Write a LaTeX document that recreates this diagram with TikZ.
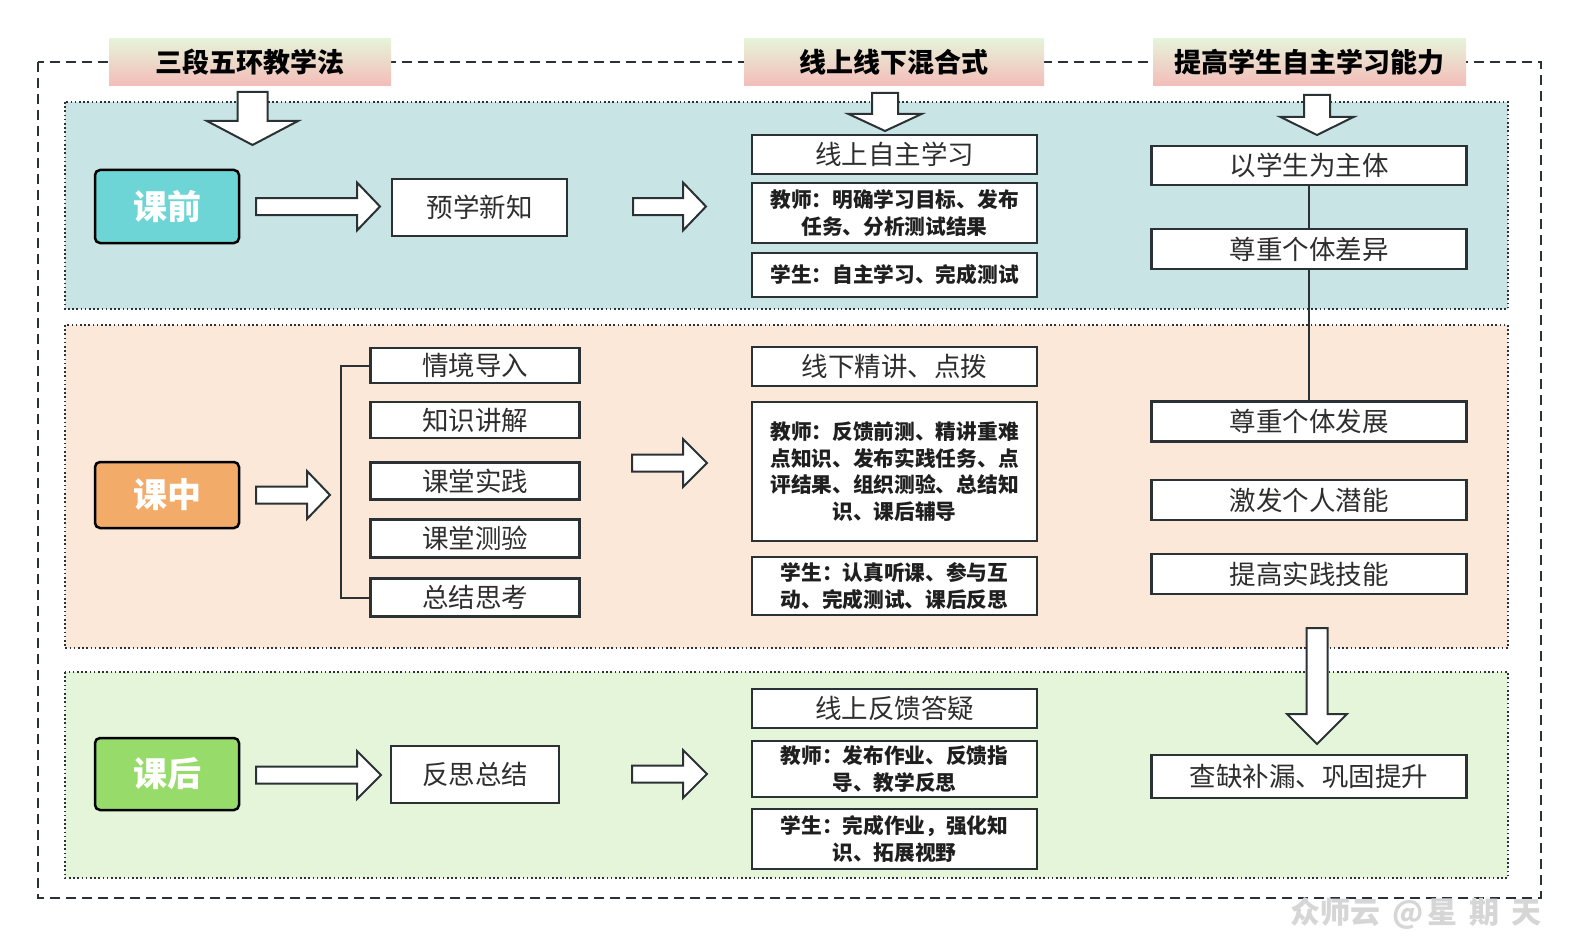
\documentclass[tikz,border=0pt]{standalone}
\usepackage{fontspec}
\newfontfamily\cjk{Noto Sans CJK SC}
\usetikzlibrary{calc}
\definecolor{edge}{HTML}{2B3236}
\definecolor{txt}{HTML}{2E2E2E}
\definecolor{bandA}{HTML}{C9E4E4}
\definecolor{bandB}{HTML}{FBE8D9}
\definecolor{bandC}{HTML}{E5F5D9}
\definecolor{ttop}{HTML}{E6F3D9}
\definecolor{tbot}{HTML}{F3BCB8}
\definecolor{cyanbox}{HTML}{6DD5D5}
\definecolor{orangebox}{HTML}{F2AB68}
\definecolor{greenbox}{HTML}{97DB6B}
\definecolor{wm}{HTML}{D6D6D6}
\tikzset{
  box/.style={draw=edge, line width=2.2pt, fill=white, inner sep=0pt, text=txt,
    font=\cjk\fontsize{26.5}{30}\selectfont},
  tbox/.style={box, align=center, text=black!88,
    font=\cjk\bfseries\fontsize{20.7}{26.5}\selectfont},
  titlebox/.style={inner sep=0pt, top color=ttop, bottom color=tbot,
    minimum height=47pt, font=\cjk\bfseries\fontsize{27}{30}\selectfont},
  phase/.style={draw=black, line width=2.5pt, rounded corners=5pt, inner sep=0pt,
    minimum width=144pt, text=white, font=\cjk\bfseries\fontsize{34}{36}\selectfont},
  band/.style={draw=edge, line width=1.6pt, dash pattern=on 1.6pt off 2.6pt},
  blk/.style={draw=edge, line width=2pt, fill=white, line join=miter},
  link/.style={draw=edge, line width=2pt},
}
\newcommand\RBlk[4]{%
  \draw[blk] (#1,#4-8.5) -- (#2,#4-8.5) -- (#2,#4-24) -- (#3,#4) -- (#2,#4+24) -- (#2,#4+8.5) -- (#1,#4+8.5) -- cycle;}
\newcommand\DBlk[6]{%
  \draw[blk] (#1-#2,#4) -- (#1+#2,#4) -- (#1+#2,#5) -- (#1+#3,#5) -- (#1,#6) -- (#1-#3,#5) -- (#1-#2,#5) -- cycle;}
\begin{document}
\begin{tikzpicture}[x=1pt,y=-1pt]
\useasboundingbox[fill=white] (0,0) rectangle (1578,936);
% outer dashed frame
\draw[edge, line width=1.8pt, dash pattern=on 10pt off 6pt] (38,62) rectangle (1541,898);
% bands
\fill[bandA] (65,102) rectangle (1508,309);
\draw[band] (65,102) rectangle (1508,309);
\fill[bandB] (65,325) rectangle (1508,648);
\draw[band] (65,325) rectangle (1508,648);
\fill[bandC] (65,672) rectangle (1508,878);
\draw[band] (65,672) rectangle (1508,878);
% titles
\node[titlebox, minimum width=282pt] (t1) at (250,62.5) {三段五环教学法};
\node[titlebox, minimum width=300pt] (t2) at (894,62.5) {线上线下混合式};
\node[titlebox, minimum width=313pt] (t3) at (1309.5,62.5) {提高学生自主学习能力};
% down arrows under titles
\DBlk{252.5}{15}{45.5}{92}{121}{145}
\DBlk{885}{13}{36.5}{93}{114}{131}
\DBlk{1317}{13}{36.5}{95}{117}{135}
% phase boxes
\node[phase, fill=cyanbox, minimum height=73pt] (kq) at (167,206.5) {课前};
\node[phase, fill=orangebox, minimum height=66pt] (kz) at (167,495) {课中};
\node[phase, fill=greenbox, minimum height=72pt] (kh) at (167,774) {课后};
% first stage boxes
\node[box, minimum width=175pt, minimum height=57pt] (p1) at (479.5,207.5) {预学新知};
\node[box, minimum width=168pt, minimum height=57pt] (p3) at (475,774.5) {反思总结};
\node[box, minimum width=209pt, minimum height=35pt] (m1) at (475,365.5) {情境导入};
\node[box, minimum width=209pt, minimum height=36pt] (m2) at (475,420) {知识讲解};
\node[box, minimum width=209pt, minimum height=37pt] (m3) at (475,481) {课堂实践};
\node[box, minimum width=209pt, minimum height=38pt] (m4) at (475,538.5) {课堂测验};
\node[box, minimum width=209pt, minimum height=38pt] (m5) at (475,597.5) {总结思考};
\draw[link] (m1.west) -- ++(-28.5,0) |- (m5.west);
% middle column
\node[box, minimum width=285pt, minimum height=39pt] (c1) at (894.5,154.5) {线上自主学习};
\node[tbox, minimum width=285pt, minimum height=60pt] (c2) at (894.5,213) {教师：明确学习目标、发布\\任务、分析测试结果};
\node[tbox, minimum width=285pt, minimum height=44pt] (c3) at (894.5,275) {学生：自主学习、完成测试};
\node[box, minimum width=285pt, minimum height=39pt] (c4) at (894.5,366.5) {线下精讲、点拨};
\node[tbox, minimum width=285pt, minimum height=139pt] (c5) at (894.5,471.5) {教师：反馈前测、精讲重难\\点知识、发布实践任务、点\\评结果、组织测验、总结知\\识、课后辅导};
\node[tbox, minimum width=285pt, minimum height=58pt] (c6) at (894.5,586) {学生：认真听课、参与互\\动、完成测试、课后反思};
\node[box, minimum width=285pt, minimum height=39pt] (c7) at (894.5,708.5) {线上反馈答疑};
\node[tbox, minimum width=285pt, minimum height=56pt] (c8) at (894.5,769) {教师：发布作业、反馈指\\导、教学反思};
\node[tbox, minimum width=285pt, minimum height=60pt] (c9) at (894.5,839) {学生：完成作业，强化知\\识、拓展视野};
% right column
\node[box, minimum width=315pt, minimum height=39pt] (r1) at (1309,165.5) {以学生为主体};
\node[box, minimum width=315pt, minimum height=40pt] (r2) at (1309,249) {尊重个体差异};
\node[box, minimum width=315pt, minimum height=40pt] (r3) at (1309,421.5) {尊重个体发展};
\node[box, minimum width=315pt, minimum height=40pt] (r4) at (1309,500) {激发个人潜能};
\node[box, minimum width=315pt, minimum height=40pt] (r5) at (1309,574) {提高实践技能};
\node[box, minimum width=315pt, minimum height=43pt] (r6) at (1309,776.5) {查缺补漏、巩固提升};
\draw[link] (r1.south) -- (r2.north);
\draw[link] (r2.south) -- (r3.north);
% block arrows
\RBlk{256}{357}{380}{206.5}
\RBlk{633}{683}{706}{206.5}
\RBlk{256}{307}{330}{495}
\RBlk{632}{683}{707}{463}
\RBlk{256}{357}{381}{775}
\RBlk{632}{683}{707}{774}
\DBlk{1317}{10.5}{30}{628}{714}{744}
% watermark
\node[text=wm, font=\cjk\bfseries\fontsize{30}{31}\selectfont, inner sep=0pt] (wmk) at (1416,913) {众师云\hspace{12pt}@\hspace{4pt}星\hspace{12pt}期\hspace{12pt}天};
\end{tikzpicture}
\end{document}
